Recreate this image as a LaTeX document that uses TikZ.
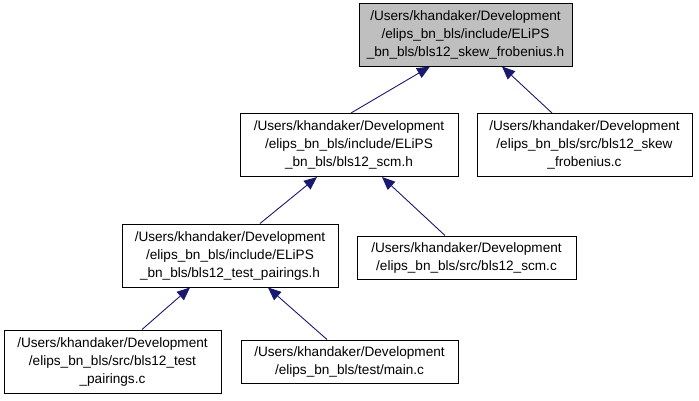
\documentclass[tikz,border=0pt]{standalone}
\usepackage{fontspec}
\setmainfont{Liberation Sans}
\usetikzlibrary{arrows.meta}
\definecolor{edgeblue}{RGB}{25,25,112}
\definecolor{boxgray}{RGB}{191,191,191}
\tikzset{
  filebox/.style={draw=black, line width=1pt, fill=white, align=center, inner sep=0pt,
    font=\fontsize{13.6}{18}\selectfont, minimum height=#1},
  filebox/.default=63pt,
  edge/.style={draw=edgeblue, line width=0.9pt, -{Triangle[length=13pt,width=11pt]}}
}
\begin{document}
\begin{tikzpicture}[x=1pt,y=-1pt]
\useasboundingbox (0,0) rectangle (699,400);
\node[filebox, fill=boxgray, minimum width=213pt] (top) at (465.5,34.5)
  {/Users/khandaker/Development\\/elips\_bn\_bls/include/ELiPS\\\_bn\_bls/bls12\_skew\_frobenius.h};
\node[filebox, minimum width=218pt] (scmh) at (349,145)
  {/Users/khandaker/Development\\/elips\_bn\_bls/include/ELiPS\\\_bn\_bls/bls12\_scm.h};
\node[filebox, minimum width=215pt] (skewc) at (584.5,145)
  {/Users/khandaker/Development\\/elips\_bn\_bls/src/bls12\_skew\\\_frobenius.c};
\node[filebox, minimum width=216pt] (tph) at (230,255.5)
  {/Users/khandaker/Development\\/elips\_bn\_bls/include/ELiPS\\\_bn\_bls/bls12\_test\_pairings.h};
\node[filebox=43pt, minimum width=219pt] (scmc) at (466.5,257.5)
  {/Users/khandaker/Development\\/elips\_bn\_bls/src/bls12\_scm.c};
\node[filebox, minimum width=217pt] (tpc) at (112.5,361.5)
  {/Users/khandaker/Development\\/elips\_bn\_bls/src/bls12\_test\\\_pairings.c};
\node[filebox=43pt, minimum width=217pt] (mainc) at (349.5,361.5)
  {/Users/khandaker/Development\\/elips\_bn\_bls/test/main.c};
\draw[edge] ([xshift=2pt]scmh.north) -- ([xshift=-35.5pt]top.south);
\draw[edge] ([xshift=-32.5pt]skewc.north) -- ([xshift=36.5pt]top.south);
\draw[edge] ([xshift=30pt]tph.north) -- ([xshift=-32pt]scmh.south);
\draw[edge] ([xshift=-21.5pt]scmc.north) -- ([xshift=33pt]scmh.south);
\draw[edge] ([xshift=29.5pt]tpc.north) -- ([xshift=-40pt]tph.south);
\draw[edge] ([xshift=-22.5pt]mainc.north) -- ([xshift=38pt]tph.south);
\end{tikzpicture}
\end{document}
